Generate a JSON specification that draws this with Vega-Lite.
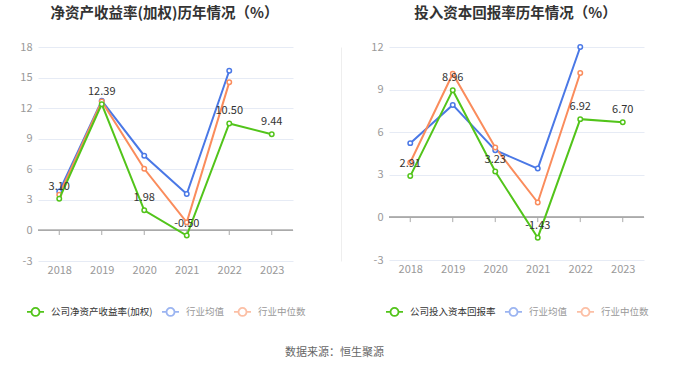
{
  "$schema": "https://vega.github.io/schema/vega-lite/v6.json",
  "padding": {"left": 19, "top": 5, "right": 5, "bottom": 8},
  "background": "white",
  "config": {
    "font": "Noto Sans CJK SC",
    "view": {"stroke": null},
    "axis": {"labelFont": "Noto Sans CJK SC", "labelColor": "#999999", "labelFontSize": 11},
    "legend": {"labelFont": "Noto Sans CJK SC"},
    "title": {"font": "Noto Sans CJK SC"}
  },
  "title": {"text": "数据来源：恒生聚源", "orient": "bottom", "anchor": "middle", "fontSize": 11, "fontWeight": "normal", "color": "#666666", "offset": 27},
  "datasets": {
    "roe": [
      {"year": "2018", "series": "公司净资产收益率(加权)", "value": 3.10},
      {"year": "2019", "series": "公司净资产收益率(加权)", "value": 12.39},
      {"year": "2020", "series": "公司净资产收益率(加权)", "value": 1.98},
      {"year": "2021", "series": "公司净资产收益率(加权)", "value": -0.50},
      {"year": "2022", "series": "公司净资产收益率(加权)", "value": 10.50},
      {"year": "2023", "series": "公司净资产收益率(加权)", "value": 9.44},
      {"year": "2018", "series": "行业均值", "value": 3.83},
      {"year": "2019", "series": "行业均值", "value": 12.73},
      {"year": "2020", "series": "行业均值", "value": 7.33},
      {"year": "2021", "series": "行业均值", "value": 3.57},
      {"year": "2022", "series": "行业均值", "value": 15.67},
      {"year": "2018", "series": "行业中位数", "value": 3.50},
      {"year": "2019", "series": "行业中位数", "value": 12.66},
      {"year": "2020", "series": "行业中位数", "value": 6.05},
      {"year": "2021", "series": "行业中位数", "value": 0.79},
      {"year": "2022", "series": "行业中位数", "value": 14.53}
    ],
    "roic": [
      {"year": "2018", "series": "公司投入资本回报率", "value": 2.91},
      {"year": "2019", "series": "公司投入资本回报率", "value": 8.96},
      {"year": "2020", "series": "公司投入资本回报率", "value": 3.23},
      {"year": "2021", "series": "公司投入资本回报率", "value": -1.43},
      {"year": "2022", "series": "公司投入资本回报率", "value": 6.92},
      {"year": "2023", "series": "公司投入资本回报率", "value": 6.70},
      {"year": "2018", "series": "行业均值", "value": 5.23},
      {"year": "2019", "series": "行业均值", "value": 7.92},
      {"year": "2020", "series": "行业均值", "value": 4.73},
      {"year": "2021", "series": "行业均值", "value": 3.44},
      {"year": "2022", "series": "行业均值", "value": 12.0},
      {"year": "2018", "series": "行业中位数", "value": 3.87},
      {"year": "2019", "series": "行业中位数", "value": 10.12},
      {"year": "2020", "series": "行业中位数", "value": 4.92},
      {"year": "2021", "series": "行业中位数", "value": 1.05},
      {"year": "2022", "series": "行业中位数", "value": 10.17}
    ]
  },
  "spacing": 29,
  "hconcat": [
    {
      "width": 255,
      "height": 214,
      "title": {"text": "净资产收益率(加权)历年情况（%）", "fontSize": 14.5, "fontWeight": "bold", "color": "#333333", "anchor": "middle", "offset": 20, "dx": -1},
      "data": {"name": "roe"},
      "resolve": {"axis": {"y": "independent"}},
      "layer": [
        {
          "mark": {"type": "rule", "color": "#aaaaaa", "strokeWidth": 1},
          "encoding": {
            "y": {"datum": 0, "type": "quantitative", "scale": {"domain": [-3, 18], "nice": false, "zero": false}, "axis": null}
          }
        },
        {
          "transform": [{"filter": "datum.series === '公司净资产收益率(加权)'"}],
          "mark": {"type": "rule", "color": "#aaaaaa", "strokeWidth": 1},
          "encoding": {
            "x": {"field": "year", "type": "ordinal", "scale": {"type": "point", "padding": 0.5}},
            "y": {"datum": 0, "type": "quantitative", "axis": null},
            "y2": {"datum": -0.45}
          }
        },
        {
          "transform": [{"filter": "datum.series !== '公司净资产收益率(加权)'"}],
          "mark": {"type": "line", "strokeWidth": 2},
          "encoding": {
            "x": {"field": "year", "type": "ordinal", "scale": {"type": "point", "padding": 0.5}, "axis": {"title": null, "labelAngle": 0, "labelAlign": "center", "domain": false, "ticks": false, "grid": false, "labelPadding": 9}},
            "y": {"field": "value", "type": "quantitative", "scale": {"domain": [-3, 18], "nice": false, "zero": false}, "axis": {"title": null, "values": [-3, 0, 3, 6, 9, 12, 15, 18], "labelExpr": "replace(datum.label, '\u2212', '-')", "domain": false, "ticks": false, "grid": true, "gridColor": "#e6ebf5", "labelPadding": 6}},
            "color": {
              "field": "series", "type": "nominal",
              "scale": {"domain": ["公司净资产收益率(加权)", "行业均值", "行业中位数"], "range": ["#52c41a", "#4a78e6", "#fa8c5c"]},
              "legend": {
                "orient": "none", "legendX": -12, "legendY": 255, "direction": "horizontal", "title": null,
                "symbolType": "M-1,0L-0.47,0M0.47,0L1,0M0.47,0A0.47,0.47,0,1,1,-0.47,0A0.47,0.47,0,1,1,0.47,0",
                "symbolSize": 289, "symbolStrokeWidth": 1.8, "symbolFillColor": "white",
                "labelFontSize": 9.5, "labelColor": "#333333", "columnPadding": 5, "labelOffset": 6,
                "encode": {
                  "labels": {"update": {"fill": {"signal": "datum.value === '公司净资产收益率(加权)' ? '#333333' : '#999999'"}}},
                  "symbols": {"update": {"opacity": {"signal": "datum.value === '公司净资产收益率(加权)' ? 1 : 0.55"}}}
                }
              }
            }
          }
        },
        {
          "transform": [{"filter": "datum.series !== '公司净资产收益率(加权)'"}],
          "mark": {"type": "point", "filled": false, "fill": "white", "size": 20, "strokeWidth": 1.5, "opacity": 1},
          "encoding": {
            "x": {"field": "year", "type": "ordinal"},
            "y": {"field": "value", "type": "quantitative", "axis": null},
            "color": {"field": "series", "type": "nominal", "scale": {"domain": ["公司净资产收益率(加权)", "行业均值", "行业中位数"], "range": ["#52c41a", "#4a78e6", "#fa8c5c"]}}
          }
        },
        {
          "transform": [{"filter": "datum.series === '公司净资产收益率(加权)'"}],
          "mark": {"type": "line", "strokeWidth": 2},
          "encoding": {
            "x": {"field": "year", "type": "ordinal"},
            "y": {"field": "value", "type": "quantitative", "axis": null},
            "color": {"field": "series", "type": "nominal", "scale": {"domain": ["公司净资产收益率(加权)", "行业均值", "行业中位数"], "range": ["#52c41a", "#4a78e6", "#fa8c5c"]}}
          }
        },
        {
          "transform": [{"filter": "datum.series === '公司净资产收益率(加权)'"}],
          "mark": {"type": "point", "filled": false, "fill": "white", "size": 20, "strokeWidth": 1.5, "opacity": 1},
          "encoding": {
            "x": {"field": "year", "type": "ordinal"},
            "y": {"field": "value", "type": "quantitative", "axis": null},
            "color": {"field": "series", "type": "nominal", "scale": {"domain": ["公司净资产收益率(加权)", "行业均值", "行业中位数"], "range": ["#52c41a", "#4a78e6", "#fa8c5c"]}}
          }
        },
        {
          "transform": [
            {"filter": "datum.series === '公司净资产收益率(加权)'"},
            {"calculate": "replace(format(datum.value, '.2f'), '\u2212', '-')", "as": "label"}
          ],
          "mark": {"type": "text", "dy": -12, "fontSize": 11, "color": "#333333"},
          "encoding": {
            "x": {"field": "year", "type": "ordinal"},
            "y": {"field": "value", "type": "quantitative", "axis": {"orient": "right", "offset": 48, "domain": true, "domainColor": "#eeeeee", "labels": false, "ticks": false, "grid": false, "title": null}},
            "text": {"field": "label", "type": "nominal"}
          }
        }
      ]
    },
    {
      "width": 255,
      "height": 213,
      "title": {"text": "投入资本回报率历年情况（%）", "fontSize": 14.5, "fontWeight": "bold", "color": "#333333", "anchor": "middle", "offset": 20, "dx": -1},
      "data": {"name": "roic"},
      "layer": [
        {
          "mark": {"type": "rule", "color": "#aaaaaa", "strokeWidth": 1},
          "encoding": {
            "y": {"datum": 0, "type": "quantitative", "scale": {"domain": [-3, 12], "nice": false, "zero": false}}
          }
        },
        {
          "transform": [{"filter": "datum.series === '公司投入资本回报率'"}],
          "mark": {"type": "rule", "color": "#aaaaaa", "strokeWidth": 1},
          "encoding": {
            "x": {"field": "year", "type": "ordinal", "scale": {"type": "point", "padding": 0.5}},
            "y": {"datum": 0, "type": "quantitative"},
            "y2": {"datum": -0.33}
          }
        },
        {
          "transform": [{"filter": "datum.series !== '公司投入资本回报率'"}],
          "mark": {"type": "line", "strokeWidth": 2},
          "encoding": {
            "x": {"field": "year", "type": "ordinal", "scale": {"type": "point", "padding": 0.5}, "axis": {"title": null, "labelAngle": 0, "labelAlign": "center", "domain": false, "ticks": false, "grid": false, "labelPadding": 9}},
            "y": {"field": "value", "type": "quantitative", "scale": {"domain": [-3, 12], "nice": false, "zero": false}, "axis": {"title": null, "values": [-3, 0, 3, 6, 9, 12], "labelExpr": "replace(datum.label, '\u2212', '-')", "domain": false, "ticks": false, "grid": true, "gridColor": "#e6ebf5", "labelPadding": 6}},
            "color": {
              "field": "series", "type": "nominal",
              "scale": {"domain": ["公司投入资本回报率", "行业均值", "行业中位数"], "range": ["#52c41a", "#4a78e6", "#fa8c5c"]},
              "legend": {
                "orient": "none", "legendX": -4, "legendY": 255, "direction": "horizontal", "title": null,
                "symbolType": "M-1,0L-0.47,0M0.47,0L1,0M0.47,0A0.47,0.47,0,1,1,-0.47,0A0.47,0.47,0,1,1,0.47,0",
                "symbolSize": 289, "symbolStrokeWidth": 1.8, "symbolFillColor": "white",
                "labelFontSize": 9.5, "labelColor": "#333333", "columnPadding": 5, "labelOffset": 6,
                "encode": {
                  "labels": {"update": {"fill": {"signal": "datum.value === '公司投入资本回报率' ? '#333333' : '#999999'"}}},
                  "symbols": {"update": {"opacity": {"signal": "datum.value === '公司投入资本回报率' ? 1 : 0.55"}}}
                }
              }
            }
          }
        },
        {
          "transform": [{"filter": "datum.series !== '公司投入资本回报率'"}],
          "mark": {"type": "point", "filled": false, "fill": "white", "size": 20, "strokeWidth": 1.5, "opacity": 1},
          "encoding": {
            "x": {"field": "year", "type": "ordinal"},
            "y": {"field": "value", "type": "quantitative"},
            "color": {"field": "series", "type": "nominal", "scale": {"domain": ["公司投入资本回报率", "行业均值", "行业中位数"], "range": ["#52c41a", "#4a78e6", "#fa8c5c"]}}
          }
        },
        {
          "transform": [{"filter": "datum.series === '公司投入资本回报率'"}],
          "mark": {"type": "line", "strokeWidth": 2},
          "encoding": {
            "x": {"field": "year", "type": "ordinal"},
            "y": {"field": "value", "type": "quantitative"},
            "color": {"field": "series", "type": "nominal", "scale": {"domain": ["公司投入资本回报率", "行业均值", "行业中位数"], "range": ["#52c41a", "#4a78e6", "#fa8c5c"]}}
          }
        },
        {
          "transform": [{"filter": "datum.series === '公司投入资本回报率'"}],
          "mark": {"type": "point", "filled": false, "fill": "white", "size": 20, "strokeWidth": 1.5, "opacity": 1},
          "encoding": {
            "x": {"field": "year", "type": "ordinal"},
            "y": {"field": "value", "type": "quantitative"},
            "color": {"field": "series", "type": "nominal", "scale": {"domain": ["公司投入资本回报率", "行业均值", "行业中位数"], "range": ["#52c41a", "#4a78e6", "#fa8c5c"]}}
          }
        },
        {
          "transform": [
            {"filter": "datum.series === '公司投入资本回报率'"},
            {"calculate": "replace(format(datum.value, '.2f'), '\u2212', '-')", "as": "label"}
          ],
          "mark": {"type": "text", "dy": -12, "fontSize": 11, "color": "#333333"},
          "encoding": {
            "x": {"field": "year", "type": "ordinal"},
            "y": {"field": "value", "type": "quantitative"},
            "text": {"field": "label", "type": "nominal"}
          }
        }
      ]
    }
  ],
  "resolve": {"scale": {"color": "independent"}}
}
